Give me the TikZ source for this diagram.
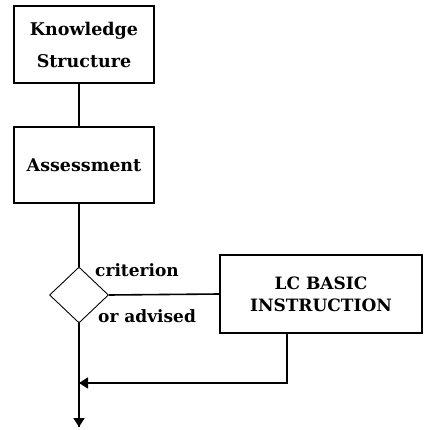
\documentclass[tikz,border=0pt]{standalone}
\usepackage{fontspec}
\setmainfont{DejaVu Serif}
\usetikzlibrary{shapes.geometric,arrows.meta}
\begin{document}
\begin{tikzpicture}[x=1pt,y=-1pt,
  box/.style={draw,line width=1.8pt,inner sep=0pt,align=center},
  link/.style={line width=1.6pt},
  tip/.style={-{Triangle[length=9pt,width=11pt]}},
  lbl/.style={font=\fontsize{17}{20}\selectfont\bfseries,inner sep=0pt,anchor=base west}]
  \useasboundingbox (0,0) rectangle (428,430);
  % boxes
  \node[box,minimum width=140pt,minimum height=77pt,
        font=\fontsize{17.5}{32}\selectfont\bfseries] (ks) at (84,44.5) {Knowledge\\Structure};
  \node[box,minimum width=140pt,minimum height=76pt,
        font=\fontsize{17.5}{20}\selectfont\bfseries] (as) at (84,165) {Assessment};
  \node[draw,line width=0.9pt,diamond,minimum width=59pt,minimum height=56pt,inner sep=0pt] (dec) at (79,295) {};
  \node[box,minimum width=202pt,minimum height=78pt,
        font=\fontsize{17}{22}\selectfont\bfseries] (lc) at (321,294) {LC BASIC\\INSTRUCTION};
  % side labels
  \node[lbl] at (95,276) {criterion};
  \node[lbl] at (98,322) {or advised};
  % connectors
  \coordinate (bend) at (287,383);
  \coordinate (join) at (79,383);
  \coordinate (out) at (79,427);
  \draw[link] (ks.south -| join) -- (as.north -| join);
  \draw[link] (as.south -| join) -- (dec.north);
  \draw[link] (dec.east) -- (lc.west);
  \draw[link] (dec.south) -- (out);
  \draw[link,tip] (lc.south -| bend) -- (bend) -- (join);
  \draw[link,tip] (79,410) -- (out);
\end{tikzpicture}
\end{document}
